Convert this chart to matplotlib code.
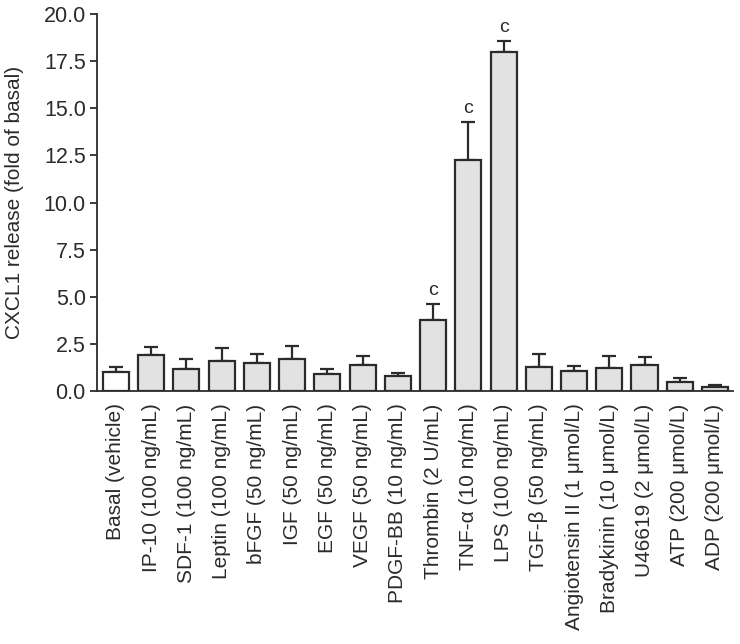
import numpy as np
import matplotlib
matplotlib.use("Agg")
import matplotlib.pyplot as plt

# ===============================================
# CXCL1 release by stimulus
# ===============================================

labels = [
    "Basal (vehicle)", "IP-10 (100 ng/mL)", "SDF-1 (100 ng/mL)", "Leptin (100 ng/mL)",
    "bFGF (50 ng/mL)", "IGF (50 ng/mL)", "EGF (50 ng/mL)", "VEGF (50 ng/mL)",
    "PDGF-BB (10 ng/mL)", "Thrombin (2 U/mL)", "TNF-α (10 ng/mL)", "LPS (100 ng/mL)",
    "TGF-β (50 ng/mL)", "Angiotensin II (1 μmol/L)", "Bradykinin (10 μmol/L)",
    "U46619 (2 μmol/L)", "ATP (200 μmol/L)", "ADP (200 μmol/L)",
]
values = [1.0, 1.89, 1.18, 1.57, 1.47, 1.71, 0.9, 1.36, 0.8, 3.77, 12.25, 18.0,
          1.27, 1.08, 1.22, 1.36, 0.46, 0.23]
errors = [0.25, 0.43, 0.5, 0.73, 0.48, 0.7, 0.25, 0.48, 0.17, 0.85, 2.04, 0.58,
          0.69, 0.26, 0.64, 0.44, 0.23, 0.07]
signif = {9: "c", 10: "c", 11: "c"}

plt.rcParams["font.family"] = ["Liberation Sans", "DejaVu Sans"]
dark = "#2b2b2b"

fig = plt.figure(figsize=(7.4, 6.44), dpi=100)
ax = fig.add_axes([0.131, 0.393, 0.859, 0.585])

x = np.arange(len(values))
colors = ["white"] + ["#e2e2e2"] * (len(values) - 1)
ax.bar(x, values, width=0.74, color=colors, edgecolor=dark, linewidth=1.6, zorder=2)
ax.errorbar(x, values, yerr=[np.zeros(len(errors)), errors], fmt="none",
            ecolor=dark, elinewidth=1.6, capsize=5, capthick=1.6, zorder=1)

# significance marks above the error bars
for i, s in signif.items():
    ax.text(x[i], values[i] + errors[i] + 0.25, s, ha="center", va="bottom",
            fontsize=14, color=dark)

ax.set_xlim(-0.54, 17.5)
ax.set_ylim(0, 20)
ax.set_yticks(np.arange(0, 20.1, 2.5))
ax.set_yticklabels([f"{v:.1f}" for v in np.arange(0, 20.1, 2.5)])
ax.set_xticks(x)
ax.set_xticklabels(labels, rotation=90)
ax.tick_params(axis="x", length=0, pad=9, labelsize=15, colors=dark)
ax.tick_params(axis="y", length=5, width=1.3, pad=3, labelsize=15.5, colors=dark)
ax.set_ylabel("CXCL1 release (fold of basal)", fontsize=15, color=dark, labelpad=14)

for side in ["top", "right"]:
    ax.spines[side].set_visible(False)
for side in ["left", "bottom"]:
    ax.spines[side].set_linewidth(1.3)
    ax.spines[side].set_color(dark)

plt.savefig("out.png", dpi=100)
plt.close()
